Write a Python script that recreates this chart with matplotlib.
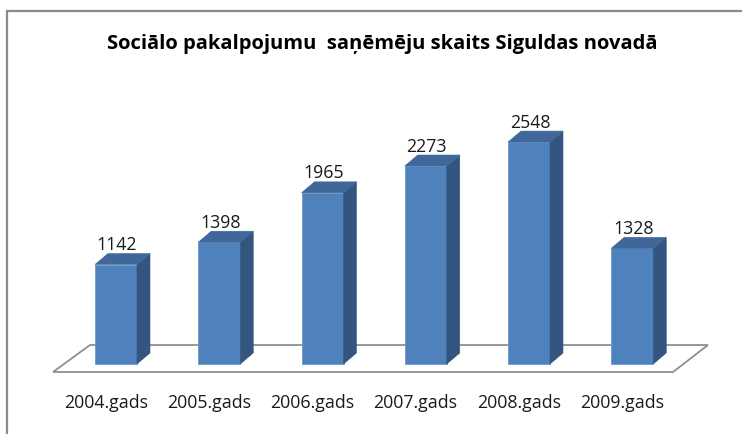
import matplotlib
matplotlib.use("Agg")
import matplotlib.pyplot as plt
from matplotlib.patches import Polygon, Rectangle

categories = ["2004.gads", "2005.gads", "2006.gads", "2007.gads", "2008.gads", "2009.gads"]
values = [1142, 1398, 1965, 2273, 2548, 1328]
title = "Sociālo pakalpojumu  saņēmēju skaits Siguldas novadā"

plt.rcParams['font.family'] = ['Open Sans', 'DejaVu Sans']

W, H = 742, 435
fig = plt.figure(figsize=(W / 100, H / 100), dpi=100)
ax = fig.add_axes([0, 0, 1, 1])
ax.axis('off')

# scale: category spacing 103.25 px, first centre at 116 px; zero at y=365 px, 0.0871 px per unit
px_cat = 103.25
x0px = 116
py = 0.0871
ybase = H - 365
ax.set_xlim((0 - x0px) / px_cat, (W - x0px) / px_cat)
ax.set_ylim(-ybase / py, (H - ybase) / py)

bw = 42 / px_cat
ddx = 13 / px_cat
ddy = 11 / py

front_c = '#4F81BD'
side_c = '#34557F'
top_c = '#3F6799'

# floor
fl = [(-0.61, -92), (-0.252, 218), (5.733, 218), (5.395, -92)]
ax.add_patch(Polygon(fl, closed=True, facecolor='white', edgecolor='#8f8f8f', lw=1.3, zorder=1))

for i, v in enumerate(values):
    l, r = i - bw / 2, i + bw / 2
    ax.add_patch(Polygon([(l, 0), (r, 0), (r, v), (l, v)], closed=True,
                         facecolor=front_c, edgecolor='#6f99cc', lw=0.6, zorder=3))
    ax.add_patch(Polygon([(r, 0), (r + ddx, ddy), (r + ddx, v + ddy), (r, v)], closed=True,
                         facecolor=side_c, edgecolor=side_c, lw=0.4, zorder=3))
    ax.add_patch(Polygon([(l, v), (r, v), (r + ddx, v + ddy), (l + ddx, v + ddy)], closed=True,
                         facecolor=top_c, edgecolor=top_c, lw=0.4, zorder=3))
    ax.text(i + 0.01, v + 235, f"{v}", ha='center', va='center', fontsize=12.8,
            color='#1a1a1a', zorder=4)
    ax.text(i - 0.1, -436, categories[i], ha='center', va='center', fontsize=12.8,
            color='#1a1a1a', zorder=4)

fig.text(382 / W, 1 - 44 / H, title, ha='center', va='center', fontsize=14.5,
         fontweight='bold', color='black')

# chart border
fig.patches.append(Rectangle((7 / W, -0.05), 1.1, 1 - 12 / H + 0.05, transform=fig.transFigure,
                             fill=False, edgecolor='#8a8a8a', lw=1.6, figure=fig))

fig.savefig('out.png', dpi=100, facecolor='white')
